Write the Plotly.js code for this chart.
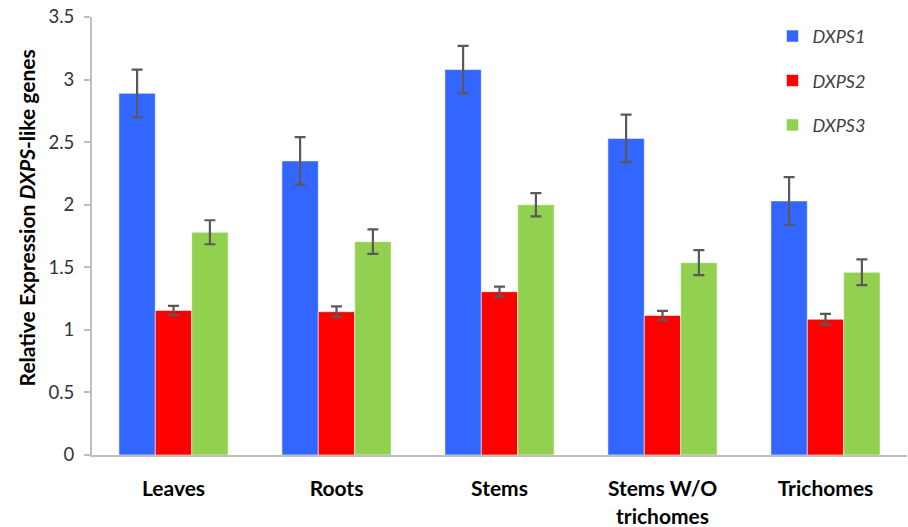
<!DOCTYPE html>
<html>
<head>
<meta charset="utf-8">
<script src="https://cdn.plot.ly/plotly-3.0.1.min.js"></script>
<style>
  html, body { margin: 0; padding: 0; background: #fff; }
  #chart { width: 908px; height: 527px; }
</style>
</head>
<body>
<div id="chart"></div>
<script>
// Tissues on the x axis
const tissues = ["Leaves", "Roots", "Stems", "Stems W/O<br>trichomes", "Trichomes"];

// Relative expression of each DXPS-like gene, with its error
const dxps1 = [2.89, 2.35, 3.08, 2.53, 2.03];
const dxps1Err = [0.19, 0.19, 0.19, 0.19, 0.19];
const dxps2 = [1.155, 1.145, 1.305, 1.115, 1.085];
const dxps2Err = [0.037, 0.042, 0.04, 0.037, 0.042];
const dxps3 = [1.78, 1.705, 2.0, 1.537, 1.46];
const dxps3Err = [0.096, 0.098, 0.093, 0.1, 0.103];

const yTicks = [0, 0.5, 1, 1.5, 2, 2.5, 3, 3.5];
const yTickText = ["0", "0.5", "1", "1.5", "2", "2.5", "3", "3.5"];

const font = "Lato, 'Open Sans', sans-serif";

function series(name, values, errors, color) {
  return {
    type: "bar",
    name: "<i>" + name + "</i>",
    legendgroup: name,
    x: tissues,
    y: values,
    marker: { color: color, line: { color: "rgba(255,255,255,0.55)", width: 1 } },
    error_y: { type: "data", array: errors, visible: true, color: "#595959", thickness: 2.2, width: 5.5 }
  };
}

const data = [
  series("DXPS1", dxps1, dxps1Err, "#3366FF"),
  series("DXPS2", dxps2, dxps2Err, "#FF0000"),
  series("DXPS3", dxps3, dxps3Err, "#92D050")
];

const layout = {
  width: 908,
  height: 527,
  margin: { l: 92, r: 1, t: 17, b: 72 },
  paper_bgcolor: "#ffffff",
  plot_bgcolor: "#ffffff",
  barmode: "group",
  bargap: 0.33,
  bargroupgap: 0,
  showlegend: true,
  legend: {
    x: 0.835, xanchor: "left",
    y: 0.998, yanchor: "top",
    traceorder: "grouped",
    tracegroupgap: 18,
    font: { family: font, size: 18, color: "#404040" },
    bgcolor: "rgba(0,0,0,0)"
  },
  xaxis: {
    type: "category",
    showline: true,
    linecolor: "#BFBFBF",
    linewidth: 2,
    ticks: "",
    showgrid: false,
    zeroline: false,
    ticklabelstandoff: 14,
    tickfont: { family: font, size: 21, color: "#000000", weight: "bold" }
  },
  yaxis: {
    range: [0, 3.5],
    tickvals: yTicks,
    ticktext: yTickText,
    showline: true,
    linecolor: "#BFBFBF",
    linewidth: 2,
    ticks: "outside",
    ticklen: 6,
    tickwidth: 2,
    tickcolor: "#BFBFBF",
    showgrid: false,
    zeroline: false,
    ticklabelstandoff: 6,
    tickfont: { family: font, size: 18.5, color: "#333333" }
  },
  // Axis title placed as a rotated annotation so it sits slightly above the plot's middle
  annotations: [{
    text: "<b>Relative Expression <i>DXPS</i>-like genes</b>",
    textangle: -90,
    xref: "paper", yref: "paper",
    x: -0.08, xanchor: "center",
    y: 0.542, yanchor: "middle",
    showarrow: false,
    font: { family: font, size: 21, color: "#000000" }
  }]
};

Plotly.newPlot("chart", data, layout, { displayModeBar: false, staticPlot: true });
</script>
</body>
</html>
